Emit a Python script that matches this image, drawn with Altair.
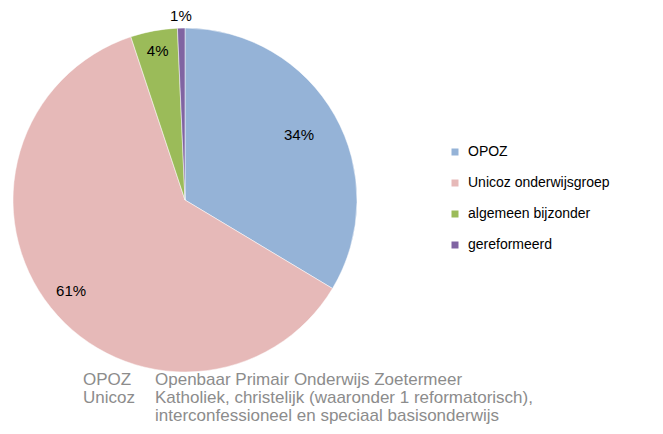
import altair as alt
import pandas as pd
import math

categories = ["OPOZ", "Unicoz onderwijsgroep", "algemeen bijzonder", "gereformeerd"]
values = [33.6, 61.3, 4.4, 0.7]
labels = ["34%", "61%", "4%", "1%"]
label_radius = [131, 146, 151, 184]
colors = ["#95B3D7", "#E6B9B8", "#9BBB59", "#8064A2"]

note_abbr = ["OPOZ", "Unicoz", ""]
note_text = [
    "Openbaar Primair Onderwijs Zoetermeer",
    "Katholiek, christelijk (waaronder 1 reformatorisch),",
    "interconfessioneel en  speciaal basisonderwijs",
]

df = pd.DataFrame({
    "category": categories,
    "value": values,
    "label": labels,
    "r": label_radius,
})
total = df["value"].sum()
df["end"] = df["value"].cumsum()
df["start"] = df["end"] - df["value"]
df["mid"] = (df["start"] + df["end"]) / 2

notes = pd.DataFrame({"abbr": note_abbr, "text": note_text, "row": list(range(len(note_text)))})

CX, CY, R = 177, 192, 172
FONT = "Liberation Sans"
theta_scale = alt.Scale(domain=[0, total], range=[0, 2 * math.pi])

base = alt.Chart(df)

pie = base.mark_arc(outerRadius=R, x=CX, y=CY, stroke="white", strokeWidth=0.5).encode(
    theta=alt.Theta("start:Q", scale=theta_scale),
    theta2="end:Q",
    color=alt.Color(
        "category:N",
        scale=alt.Scale(domain=categories, range=colors),
        sort=categories,
        legend=alt.Legend(
            title=None,
            orient="none",
            legendX=440,
            legendY=137,
            symbolType="square",
            symbolSize=49,
            symbolStrokeWidth=0,
            labelFont=FONT,
            labelFontSize=14,
            labelColor="#000000",
            rowPadding=17,
            labelOffset=6,
        ),
    ),
)

text = base.mark_text(x=CX, y=CY, font=FONT, fontSize=15, color="#000000").encode(
    theta=alt.Theta("mid:Q", scale=theta_scale),
    radius=alt.Radius("r:Q", scale=None),
    text="label:N",
)

nb = alt.Chart(notes)
yenc = alt.Y("row:Q", axis=None, scale=alt.Scale(domain=[0, 2], range=[372, 408]))
abbr = nb.mark_text(align="left", baseline="middle", font=FONT, fontSize=17, color="#8C8C8C", x=75).encode(
    y=yenc,
    text="abbr:N",
)
ntext = nb.mark_text(align="left", baseline="middle", font=FONT, fontSize=17, color="#8C8C8C", x=147).encode(
    y=yenc,
    text="text:N",
)

chart = alt.layer(pie, text, abbr, ntext).properties(
    width=647, height=418, padding=0, autosize="none"
).resolve_scale(y="independent").configure_view(stroke=None)

chart.save("out.html", embed_options={"renderer": "svg", "actions": False})
